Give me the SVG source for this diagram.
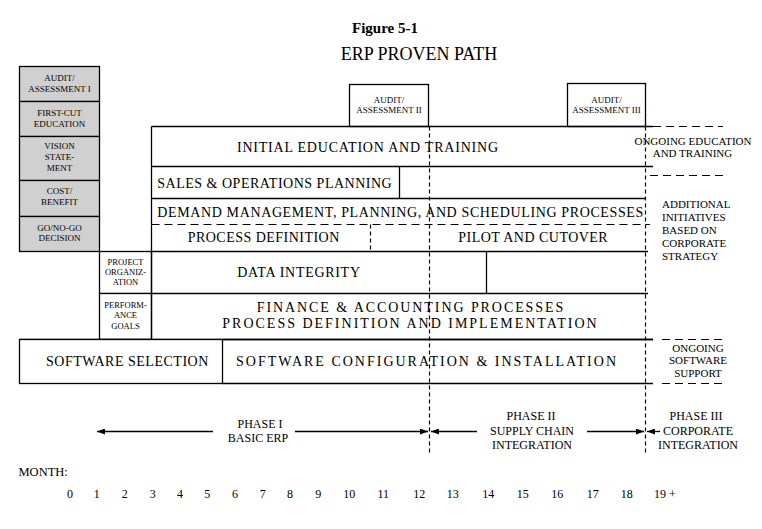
<svg xmlns="http://www.w3.org/2000/svg" width="762" height="529" viewBox="0 0 762 529" font-family="'Liberation Serif', 'Times New Roman', serif">
<style>
text{font-family:'Liberation Serif','Times New Roman',serif;fill:#000}
.ln{stroke:#000;stroke-width:1.3;fill:none}
.box{stroke:#000;stroke-width:1.3;fill:#fff}
.gray{stroke:#000;stroke-width:1.3;fill:#d0d0d0}
.vd{stroke:#000;stroke-width:1.2;stroke-dasharray:4 3;fill:none}
.hd{stroke:#000;stroke-width:1.2;stroke-dasharray:8 5;fill:none}
.arr{stroke:#000;stroke-width:1.3;fill:none}
.main{font-size:14px}
.sm{font-size:9px;text-anchor:middle}
.xs{font-size:8.5px;text-anchor:middle}
.rt{font-size:11px}
.ph{font-size:12px;text-anchor:middle}
.num{font-size:12px;text-anchor:middle}
</style>
<defs>
<marker id="ah" viewBox="0 0 8 6" refX="8" refY="3" markerWidth="8" markerHeight="6" markerUnits="userSpaceOnUse" orient="auto">
<path d="M0,0 L8,3 L0,6 Z" fill="#000"/>
</marker>
</defs>

<g id="title">
<text x="385" y="33.3" font-size="15" font-weight="bold" text-anchor="middle">Figure 5-1</text>
<text x="419" y="60" font-size="18" text-anchor="middle">ERP PROVEN PATH</text>
</g>

<g id="audit1"><rect class="gray" x="19.5" y="66.5" width="80" height="35"/>
<text class="sm" x="59.5" y="80.7">AUDIT/</text><text class="sm" x="59.5" y="91.7">ASSESSMENT I</text></g>
<g id="firstcut"><rect class="gray" x="19.5" y="101.5" width="80" height="35"/>
<text class="sm" x="59.5" y="116">FIRST-CUT</text><text class="sm" x="59.5" y="127">EDUCATION</text></g>
<g id="vision"><rect class="gray" x="19.5" y="136.5" width="80" height="44"/>
<text class="sm" x="59.5" y="149.3">VISION</text><text class="sm" x="59.5" y="159.7">STATE-</text><text class="sm" x="59.5" y="170.7">MENT</text></g>
<g id="cost"><rect class="gray" x="19.5" y="180.5" width="80" height="36"/>
<text class="sm" x="59.5" y="194.3">COST/</text><text class="sm" x="59.5" y="205">BENEFIT</text></g>
<g id="gonogo"><rect class="gray" x="19.5" y="216.5" width="80" height="35"/>
<text class="sm" x="59.5" y="230.7">GO/NO-GO</text><text class="sm" x="59.5" y="241.3">DECISION</text></g>

<g id="projorg"><rect class="box" x="99.5" y="251.5" width="52" height="42"/>
<text class="xs" x="125.5" y="265">PROJECT</text><text class="xs" x="125.5" y="274.5">ORGANIZ-</text><text class="xs" x="125.5" y="285">ATION</text></g>
<g id="perfgoals"><rect class="box" x="99.5" y="293.5" width="52" height="46"/>
<text class="xs" x="125.5" y="307.7">PERFORM-</text><text class="xs" x="125.5" y="318.3">ANCE</text><text class="xs" x="125.5" y="328.5">GOALS</text></g>

<g id="audit2"><rect class="box" x="349.5" y="84.5" width="79" height="42"/>
<text class="sm" x="389" y="103.3">AUDIT/</text><text class="sm" x="389" y="113.3">ASSESSMENT II</text></g>
<g id="audit3"><rect class="box" x="567.5" y="83.5" width="78" height="43"/>
<text class="sm" x="606.5" y="103.3">AUDIT/</text><text class="sm" x="606.5" y="113.3">ASSESSMENT III</text></g>

<g id="initialed">
<path class="ln" d="M151.5,126.5 H653 M151.5,166.5 H653 M151.5,126.5 V166.5"/>
<text class="main" x="237" y="151.5" textLength="261" lengthAdjust="spacing">INITIAL EDUCATION AND TRAINING</text>
</g>
<g id="sop">
<path class="ln" d="M151.5,166.5 V198.5 M399.5,166.5 V198.5"/>
<text class="main" x="157.3" y="187.7" textLength="234.4" lengthAdjust="spacing">SALES &amp; OPERATIONS PLANNING</text>
</g>
<g id="demand">
<path class="ln" d="M151.5,198.5 H645.5 M151.5,198.5 V224.5"/>
<path class="hd" d="M151.5,224.5 H650"/>
<text class="main" x="157.3" y="216.7" textLength="486" lengthAdjust="spacing">DEMAND MANAGEMENT, PLANNING, AND SCHEDULING PROCESSES</text>
</g>
<g id="processdef">
<path class="ln" d="M151.5,224.5 V251.5"/>
<path class="vd" d="M370.5,224.5 V251.5"/>
<text class="main" x="187.7" y="241.7" textLength="151.6" lengthAdjust="spacing">PROCESS DEFINITION</text>
</g>
<g id="pilot">
<path class="ln" d="M151.5,251.5 H648"/>
<text class="main" x="458.3" y="241.7" textLength="149.4" lengthAdjust="spacing">PILOT AND CUTOVER</text>
</g>
<g id="dataintegrity">
<path class="ln" d="M151.5,251.5 V293.5 H648 M486.5,251.5 V293.5"/>
<text class="main" x="237.3" y="277.3" textLength="122.7" lengthAdjust="spacing">DATA INTEGRITY</text>
</g>
<g id="finance">
<path class="ln" d="M151.5,293.5 V339.5 M19.5,339.5 H653"/>
<text class="main" x="256.7" y="312.3" textLength="306.6" lengthAdjust="spacing">FINANCE &amp; ACCOUNTING PROCESSES</text>
<text class="main" x="222.3" y="327.7" textLength="374.4" lengthAdjust="spacing">PROCESS DEFINITION AND IMPLEMENTATION</text>
</g>
<g id="swselection">
<rect class="box" x="19.5" y="339.5" width="203" height="44"/>
<text class="main" x="46" y="366" textLength="162.3" lengthAdjust="spacing">SOFTWARE SELECTION</text>
</g>
<g id="swconfig">
<path class="ln" d="M222.5,339.5 H653 M222.5,383.5 H653"/>
<text class="main" x="236" y="366" textLength="380" lengthAdjust="spacing">SOFTWARE CONFIGURATION &amp; INSTALLATION</text>
</g>

<g id="ongoinged">
<path class="hd" d="M653,126.5 H723 M650,175.5 H723"/>
<text class="rt" x="693" y="145" text-anchor="middle">ONGOING EDUCATION</text>
<text class="rt" x="692.5" y="157.3" text-anchor="middle">AND TRAINING</text>
</g>
<g id="additional">
<text class="rt" x="662" y="208.3">ADDITIONAL</text>
<text class="rt" x="662" y="221.3">INITIATIVES</text>
<text class="rt" x="662" y="234.3">BASED ON</text>
<text class="rt" x="662" y="247.3">CORPORATE</text>
<text class="rt" x="662" y="260.3">STRATEGY</text>
</g>
<g id="ongoingsw">
<path class="hd" d="M662,339.5 H723 M662,383.5 H723"/>
<text class="rt" x="698" y="351.7" text-anchor="middle">ONGOING</text>
<text class="rt" x="698" y="364.2" text-anchor="middle">SOFTWARE</text>
<text class="rt" x="698" y="376.7" text-anchor="middle">SUPPORT</text>
</g>

<g id="connectors">
<path class="vd" d="M429.5,126.5 V455"/>
<path class="vd" d="M645.5,126.5 V455"/>
<path class="arr" d="M213,431.5 H97" marker-end="url(#ah)"/>
<path class="arr" d="M295,431.5 H428" marker-end="url(#ah)"/>
<path class="arr" d="M477,431.5 H431" marker-end="url(#ah)"/>
<path class="arr" d="M587,431.5 H644" marker-end="url(#ah)"/>
<path class="arr" d="M660,431.5 H647" marker-end="url(#ah)"/>
</g>

<g id="phase1">
<text class="ph" x="260" y="427.5">PHASE I</text>
<text class="ph" x="258" y="441.5">BASIC ERP</text>
</g>
<g id="phase2">
<text class="ph" x="531" y="419.5">PHASE II</text>
<text class="ph" x="532" y="434.5">SUPPLY CHAIN</text>
<text class="ph" x="532" y="448.5">INTEGRATION</text>
</g>
<g id="phase3">
<text class="ph" x="696" y="419.5">PHASE III</text>
<text class="ph" x="698" y="434.5">CORPORATE</text>
<text class="ph" x="698" y="448.5">INTEGRATION</text>
</g>

<g id="months">
<text x="18.5" y="475.5" font-size="12.5">MONTH:</text>
<text class="num" x="70" y="498">0</text>
<text class="num" x="96.7" y="498">1</text>
<text class="num" x="124.7" y="498">2</text>
<text class="num" x="152.7" y="498">3</text>
<text class="num" x="180" y="498">4</text>
<text class="num" x="207.3" y="498">5</text>
<text class="num" x="235" y="498">6</text>
<text class="num" x="262.7" y="498">7</text>
<text class="num" x="290" y="498">8</text>
<text class="num" x="318.3" y="498">9</text>
<text class="num" x="349.3" y="498">10</text>
<text class="num" x="383.3" y="498">11</text>
<text class="num" x="419.3" y="498">12</text>
<text class="num" x="452.7" y="498">13</text>
<text class="num" x="488.3" y="498">14</text>
<text class="num" x="522.7" y="498">15</text>
<text class="num" x="557.3" y="498">16</text>
<text class="num" x="592.7" y="498">17</text>
<text class="num" x="626.7" y="498">18</text>
<text x="654" y="498" font-size="12">19 +</text>
</g>
</svg>
